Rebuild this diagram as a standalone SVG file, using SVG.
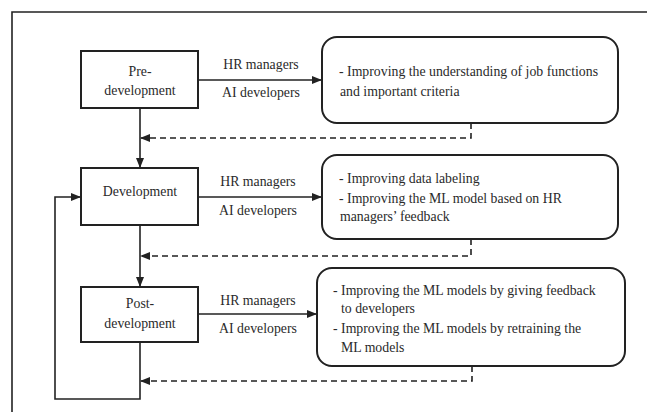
<svg xmlns="http://www.w3.org/2000/svg" width="647" height="412" viewBox="0 0 647 412">
<style>
text{font-family:"Liberation Serif","Times New Roman",serif;font-size:13.8px;fill:#2a2a2a}
.c{text-anchor:middle}
.box{fill:#fff;stroke:#222;stroke-width:2}
.ln{fill:none;stroke:#222;stroke-width:1.6}
.ds{fill:none;stroke:#222;stroke-width:1.6;stroke-dasharray:6,4}
</style>
<defs>
<marker id="ah" markerWidth="10" markerHeight="8" refX="9" refY="4" orient="auto" markerUnits="userSpaceOnUse">
<path d="M0,0 L10,4 L0,8 Z" fill="#222"/>
</marker>
</defs>
<rect width="647" height="412" fill="#fff"/>
<path d="M12,412 V12 H647" fill="none" stroke="#222" stroke-width="1.6"/>
<g id="connectors">
<path class="ln" d="M198,80 H321" marker-end="url(#ah)"/>
<path class="ln" d="M198,197 H321" marker-end="url(#ah)"/>
<path class="ln" d="M198,314 H316" marker-end="url(#ah)"/>
<path class="ln" d="M140,108 V167" marker-end="url(#ah)"/>
<path class="ln" d="M140,225 V286" marker-end="url(#ah)"/>
<path class="ln" d="M140,342 V399 H55 V197 H80" marker-end="url(#ah)"/>
<path class="ds" d="M471,123 V138 H141" marker-end="url(#ah)"/>
<path class="ds" d="M471,239 V256 H141" marker-end="url(#ah)"/>
<path class="ds" d="M472,366 V381 H141" marker-end="url(#ah)"/>
<text class="c" x="261" y="69">HR managers</text>
<text class="c" x="261" y="97">AI developers</text>
<text class="c" x="258" y="186">HR managers</text>
<text class="c" x="258" y="215">AI developers</text>
<text class="c" x="258" y="305">HR managers</text>
<text class="c" x="258" y="333">AI developers</text>
</g>
<g id="pre">
<rect class="box" x="81" y="51" width="117" height="57"/>
<text class="c" x="140" y="76">Pre-</text>
<text class="c" x="140" y="95">development</text>
</g>
<g id="dev">
<rect class="box" x="81" y="168" width="117" height="57"/>
<text class="c" x="140" y="196">Development</text>
</g>
<g id="post">
<rect class="box" x="81" y="287" width="117" height="55"/>
<text class="c" x="140" y="308">Post-</text>
<text class="c" x="140" y="328">development</text>
</g>
<g id="r1">
<rect class="box" x="322" y="37" width="296" height="86" rx="15"/>
<text x="339" y="76">- Improving the understanding of job functions</text>
<text x="340" y="96">and important criteria</text>
</g>
<g id="r2">
<rect class="box" x="322" y="155" width="296" height="84" rx="15"/>
<text x="339" y="183">- Improving data labeling</text>
<text x="339" y="203">- Improving the ML model based on HR</text>
<text x="340" y="221">managers’ feedback</text>
</g>
<g id="r3">
<rect class="box" x="317" y="268" width="308" height="98" rx="15"/>
<text x="333" y="295">- Improving the ML models by giving feedback</text>
<text x="341" y="313">to developers</text>
<text x="333" y="333">- Improving the ML models by retraining the</text>
<text x="341" y="352">ML models</text>
</g>
</svg>
